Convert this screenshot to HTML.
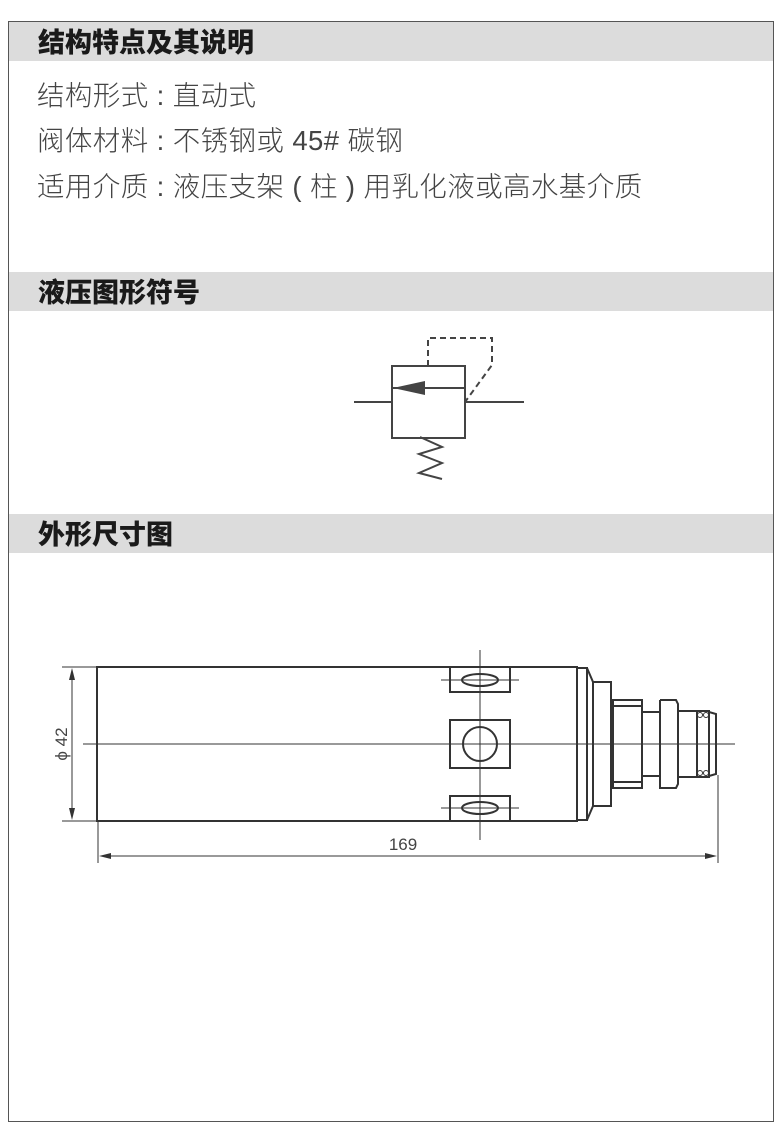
<!DOCTYPE html>
<html><head><meta charset="utf-8"><style>
html,body{margin:0;padding:0;background:#fff;width:784px;height:1148px;overflow:hidden;font-family:"Liberation Sans","Noto Sans CJK SC",sans-serif}
.frame{position:absolute;left:8px;top:21px;width:766px;height:1101px;border:1.5px solid #555;box-sizing:border-box}
.bar{position:absolute;left:9px;width:764px;height:39px;background:#dcdcdc}
.bar span{position:absolute;left:29px;top:2px;line-height:39px;font-size:27px;font-weight:900;color:#1a1a1a;font-family:"Liberation Sans","Noto Sans CJK SC",sans-serif}
.t{position:absolute;left:37px;font-size:27.5px;letter-spacing:0.4px;line-height:34px;color:#444;font-weight:300;white-space:nowrap}
</style></head><body>
<div class="frame"></div>
<div class="bar" style="top:22px"><span>结构特点及其说明</span></div>
<div class="t" style="top:79px">结构形式 : 直动式</div>
<div class="t" style="top:124px">阀体材料 : 不锈钢或 45# 碳钢</div>
<div class="t" style="top:170px">适用介质 : 液压支架 ( 柱 ) 用乳化液或高水基介质</div>
<div class="bar" style="top:272px"><span>液压图形符号</span></div>
<div class="bar" style="top:514px"><span>外形尺寸图</span></div>
<svg width="784" height="1148" style="position:absolute;left:0;top:0" xmlns="http://www.w3.org/2000/svg">
<g stroke="#444" stroke-width="2" fill="none">
<rect x="392" y="366" width="73" height="72"/>
<line x1="392" y1="388" x2="465" y2="388"/>
<line x1="354" y1="402" x2="392" y2="402"/>
<line x1="465" y1="402" x2="524" y2="402"/>
<polyline points="428,366 428,338 492,338 492,365 465,402" stroke-dasharray="6,4"/>
<polyline points="420,437 442,447 419,454 442,463 419,473 442,479"/>
</g>
<polygon points="393,388 425,381 425,395" fill="#444"/>
<g stroke="#333" stroke-width="1" fill="none">
<line x1="83" y1="744" x2="735" y2="744"/>
<line x1="480" y1="650" x2="480" y2="840"/>
<line x1="62" y1="667" x2="97" y2="667"/>
<line x1="62" y1="821" x2="97" y2="821"/>
<line x1="72" y1="672" x2="72" y2="816"/>
<line x1="98" y1="821" x2="98" y2="863"/>
<line x1="718" y1="775" x2="718" y2="863"/>
<line x1="103" y1="856" x2="713" y2="856"/>
<line x1="441" y1="680" x2="519" y2="680"/>
<line x1="441" y1="808" x2="519" y2="808"/>
</g>
<g fill="#333">
<polygon points="72,668 69,680 75,680"/><polygon points="72,820 69,808 75,808"/>
<polygon points="99,856 111,853 111,859"/><polygon points="717,856 705,853 705,859"/>
</g>
<g stroke="#333" stroke-width="2" fill="none">
<rect x="97" y="667" width="480" height="154"/>
<rect x="450" y="667" width="60" height="25"/>
<ellipse cx="480" cy="680" rx="18" ry="6"/>
<rect x="450" y="720" width="60" height="48"/>
<circle cx="480" cy="744" r="17"/>
<rect x="450" y="796" width="60" height="25"/>
<ellipse cx="480" cy="808" rx="18" ry="6"/>
<rect x="577" y="668" width="10" height="152"/>
<polyline points="587,668 593,682 593,806 587,820"/>
<rect x="593" y="682" width="18" height="124"/>
<line x1="611" y1="684" x2="611" y2="804"/>
<rect x="613" y="700" width="29" height="88"/>
<line x1="613" y1="706" x2="642" y2="706"/><line x1="613" y1="782" x2="642" y2="782"/>
<rect x="642" y="712" width="18" height="64"/>
<polyline points="660,700 676,700 678,704 678,784 676,788 660,788 660,700"/>
<rect x="678" y="711" width="19" height="66"/>
<rect x="697" y="711" width="12" height="66"/>
<polyline points="709,712 716,714 716,774 709,776"/>
</g>
<g stroke="#333" stroke-width="1" fill="none">
<circle cx="700" cy="715" r="2.5"/><circle cx="706" cy="715" r="2.5"/>
<circle cx="700" cy="773" r="2.5"/><circle cx="706" cy="773" r="2.5"/>
</g>
<text x="403" y="850" font-size="17" fill="#444" text-anchor="middle" font-family="Liberation Sans, sans-serif">169</text>
<text transform="translate(67,744) rotate(-90)" font-size="17" fill="#444" text-anchor="middle" font-family="Liberation Sans, sans-serif">ϕ 42</text>
</svg>
</body></html>
